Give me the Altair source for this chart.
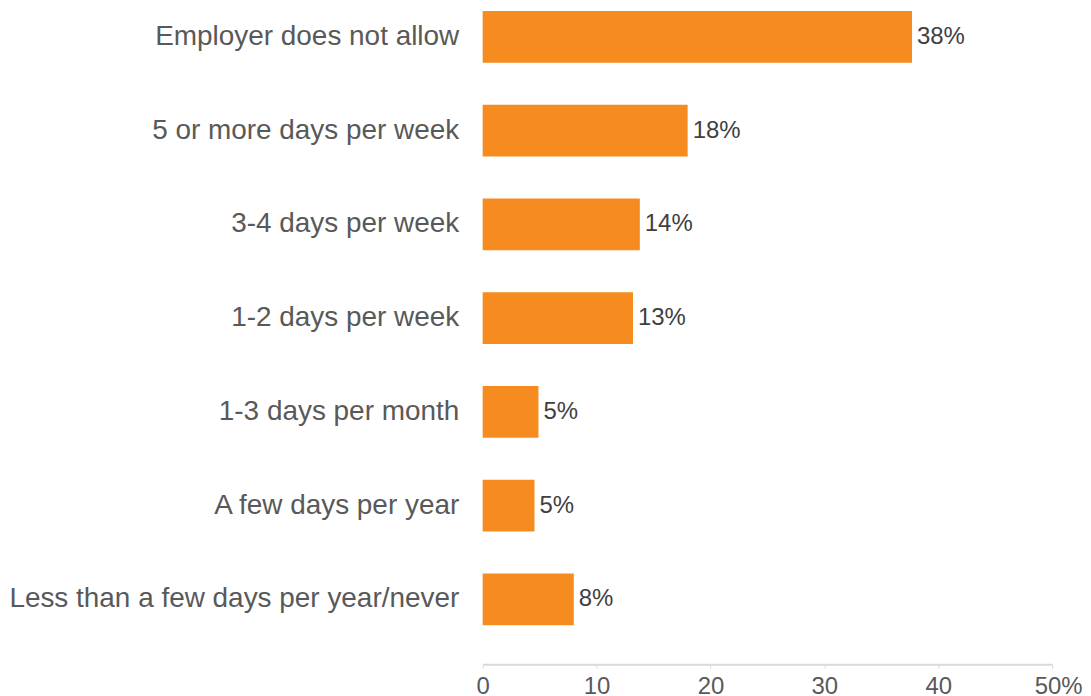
import altair as alt
import pandas as pd

categories = [
    "Employer does not allow",
    "5 or more days per week",
    "3-4 days per week",
    "1-2 days per week",
    "1-3 days per month",
    "A few days per year",
    "Less than a few days per year/never",
]
values = [37.7, 18.0, 13.8, 13.2, 4.9, 4.55, 8.0]
value_labels = ["38%", "18%", "14%", "13%", "5%", "5%", "8%"]
x_ticks = [0, 10, 20, 30, 40, 50]

df = pd.DataFrame({"category": categories, "value": values, "label": value_labels})

y_enc = alt.Y(
    "category:N",
    sort=categories,
    title=None,
    scale=alt.Scale(paddingInner=0.447, paddingOuter=0.218, align=0.05),
    axis=alt.Axis(
        domain=False,
        ticks=False,
        labelFont="Liberation Sans",
        labelFontSize=28,
        labelColor="#595959",
        labelPadding=24,
        labelLimit=600,
    ),
)

x_enc = alt.X(
    "value:Q",
    title=None,
    scale=alt.Scale(domain=[0, 50], nice=False),
    axis=alt.Axis(
        values=x_ticks,
        grid=False,
        domainColor="#D9D9D9",
        domainWidth=2,
        tickColor="#D9D9D9",
        tickWidth=1,
        tickSize=4,
        labelFont="Liberation Sans",
        labelFontSize=24,
        labelColor="#595959",
        labelPadding=6,
        labelFlush=False,
        labelExpr="datum.value == 50 ? '50%' : datum.label",
        labelOffset={"condition": {"test": "datum.value == 50", "value": 6}, "value": 0},
    ),
)

bars = alt.Chart(df).mark_bar(color="#F68C1F").encode(x=x_enc, y=y_enc)

text = alt.Chart(df).mark_text(
    align="left",
    baseline="middle",
    dx=5,
    font="Liberation Sans",
    fontSize=24,
    color="#404040",
).encode(x="value:Q", y=alt.Y("category:N", sort=categories), text="label:N")

chart = (
    alt.layer(bars, text)
    .properties(width=571, height=657, padding=0)
    .configure_view(stroke=None)
)

chart.save("out.html", embed_options={"renderer": "svg", "actions": False})
